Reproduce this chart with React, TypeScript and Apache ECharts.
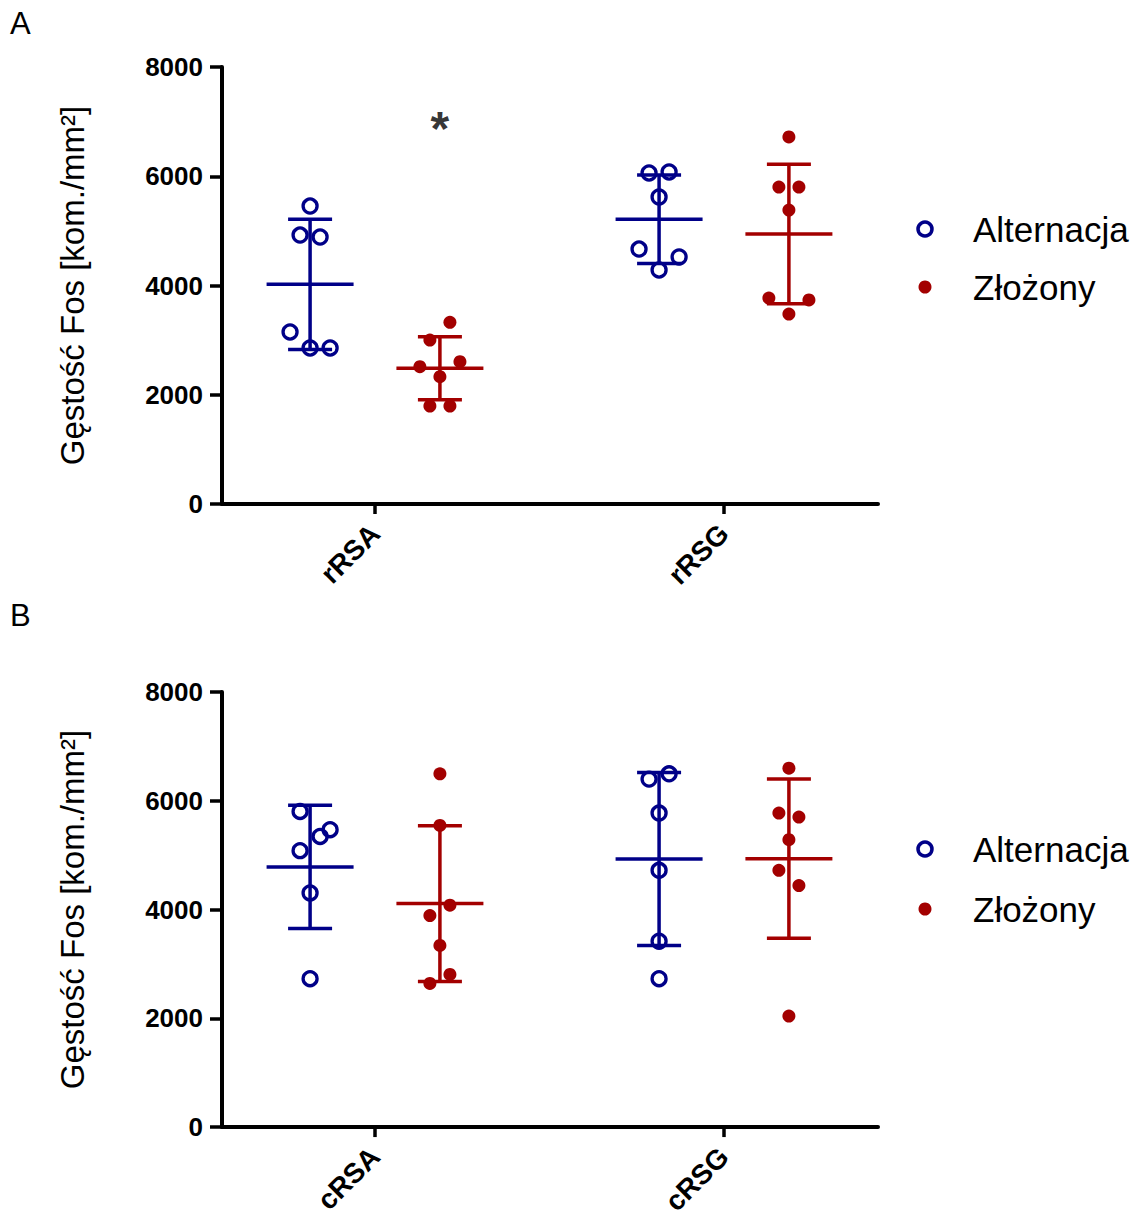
import React, { useEffect, useRef } from "react";
import * as echarts from "echarts";

// ---------- data ----------
const categoriesA = ["rRSA", "rRSG"];
const categoriesB = ["cRSA", "cRSG"];
const seriesNames = ["Alternacja", "Złożony"];
const yTicks = [0, 2000, 4000, 6000, 8000];

// individual points (Fos density), per category
const rRSA_alt = [5455, 4924, 4888, 3149, 2856, 2856];
const rRSA_zl = [3326, 3002, 2513, 2605, 2330, 1794, 1794];
const rRSG_alt = [6060, 6078, 5620, 4668, 4522, 4284];
const rRSG_zl = [6719, 5803, 5803, 5382, 3771, 3735, 3478];
const cRSA_alt = [5804, 5468, 5345, 5083, 4306, 2728];
const cRSA_zl = [6495, 5547, 4079, 3890, 3339, 2807, 2642];
const cRSG_alt = [6398, 6495, 5774, 4721, 3418, 2728];
const cRSG_zl = [6600, 5774, 5701, 5284, 4721, 4440, 2042];

// jitter slots for the scatter points (layout only)
const rRSA_alt_j = [0, -1, 1, -2, 0, 2];
const rRSA_zl_j = [1, -1, -2, 2, 0, -1, 1];
const rRSG_alt_j = [-1, 1, 0, -2, 2, 0];
const rRSG_zl_j = [0, -1, 1, 0, -2, 2, 0];
const cRSA_alt_j = [-1, 2, 1, -1, 0, 0];
const cRSA_zl_j = [0, 0, 1, -1, 0, 1, -1];
const cRSG_alt_j = [-1, 1, 0, 0, 0, 0];
const cRSG_zl_j = [0, -1, 1, 0, -1, 1, 0];

// mean and SD per category
const A_alt_mean = [4022, 5212];
const A_alt_sd = [1193, 811];
const A_zl_mean = [2484, 4943];
const A_zl_sd = [577, 1276];
const B_alt_mean = [4783, 4930];
const B_alt_sd = [1133, 1590];
const B_zl_mean = [4110, 4936];
const B_zl_sd = [1432, 1463];

// significance marker (panel A, rRSA, Złożony)
const sigLabel = "*";
const sigValue = 6880;

// ---------- style ----------
const BLUE = "#000088";
const RED = "#A30000";
const FONT = "'Liberation Sans', Arial, sans-serif";
const GROUP_OFF = 0.186;
const JIT = 0.0287;
const X_MIN = -0.4384;
const X_MAX = 1.4413;

function pts(vals: number[], jit: number[], cat: number, off: number) {
  return vals.map((v, i) => [cat + off + jit[i] * JIT, v]);
}

function App() {
  const ref = useRef<HTMLDivElement>(null);
  useEffect(() => {
    if (!ref.current) return;
    const chart = echarts.init(ref.current, null, { renderer: "svg" });

    const grids = [
      { left: 222, top: 67, width: 656, height: 437 },
      { left: 222, top: 692, width: 656, height: 436 },
    ];

    const mkX = (gi: number, cats: string[]) => ({
      type: "value",
      gridIndex: gi,
      min: X_MIN,
      max: X_MAX,
      splitLine: { show: false },
      axisLine: { show: true, onZero: false, lineStyle: { color: "#000", width: 4 } },
      axisTick: { show: true, customValues: [0, 1], length: 10, lineStyle: { color: "#000", width: 3.5 } },
      axisLabel: {
        customValues: [0, 1],
        formatter: (v: number) => cats[Math.round(v)] ?? "",
        rotate: 45,
        margin: 25,
        fontSize: 28,
        fontWeight: "bold",
        color: "#000",
        fontFamily: FONT,
      },
    });

    const mkY = (gi: number) => ({
      type: "value",
      gridIndex: gi,
      min: yTicks[0],
      max: yTicks[yTicks.length - 1],
      interval: yTicks[1] - yTicks[0],
      splitLine: { show: false },
      axisLine: { show: true, onZero: false, lineStyle: { color: "#000", width: 4 } },
      axisTick: { show: true, length: 12, lineStyle: { color: "#000", width: 3.5 } },
      axisLabel: {
        fontSize: 26,
        fontWeight: "bold",
        color: "#000",
        margin: 19,
        fontFamily: FONT,
        formatter: (v: number) => String(v),
      },
      name: "Gęstość Fos [kom./mm²]",
      nameLocation: "middle",
      nameGap: 133,
      nameTextStyle: { fontSize: 33, color: "#000", fontFamily: FONT },
    });

    const scatter = (gi: number, name: string, data: number[][], color: string, hollow: boolean) => ({
      type: "scatter",
      name,
      xAxisIndex: gi,
      yAxisIndex: gi,
      data,
      symbol: "circle",
      symbolSize: hollow ? 14 : 13,
      z: 3,
      itemStyle: hollow
        ? { color: "rgba(0,0,0,0)", borderColor: color, borderWidth: 3.3, opacity: 1 }
        : { color, opacity: 1 },
    });

    const errBars = (gi: number, means: number[], sds: number[], off: number, color: string) => ({
      type: "custom",
      xAxisIndex: gi,
      yAxisIndex: gi,
      z: 2,
      data: means.map((m, i) => [i + off, m, m - sds[i], m + sds[i]]),
      encode: { x: 0, y: [1, 2, 3] },
      renderItem: (_p: any, api: any) => {
        const x = api.value(0);
        const pm = api.coord([x, api.value(1)]);
        const pl = api.coord([x, api.value(2)]);
        const ph = api.coord([x, api.value(3)]);
        const st = { stroke: color, lineWidth: 3.5 };
        const hw = 43.5;
        const cw = 22;
        return {
          type: "group",
          children: [
            { type: "line", shape: { x1: pm[0], y1: pl[1], x2: pm[0], y2: ph[1] }, style: st },
            { type: "line", shape: { x1: pm[0] - hw, y1: pm[1], x2: pm[0] + hw, y2: pm[1] }, style: st },
            { type: "line", shape: { x1: pm[0] - cw, y1: ph[1], x2: pm[0] + cw, y2: ph[1] }, style: st },
            { type: "line", shape: { x1: pm[0] - cw, y1: pl[1], x2: pm[0] + cw, y2: pl[1] }, style: st },
          ],
        };
      },
    });

    const series: any[] = [
      errBars(0, A_alt_mean, A_alt_sd, -GROUP_OFF, BLUE),
      errBars(0, A_zl_mean, A_zl_sd, GROUP_OFF, RED),
      errBars(1, B_alt_mean, B_alt_sd, -GROUP_OFF, BLUE),
      errBars(1, B_zl_mean, B_zl_sd, GROUP_OFF, RED),
      scatter(0, seriesNames[0], [...pts(rRSA_alt, rRSA_alt_j, 0, -GROUP_OFF), ...pts(rRSG_alt, rRSG_alt_j, 1, -GROUP_OFF)], BLUE, true),
      scatter(0, seriesNames[1], [...pts(rRSA_zl, rRSA_zl_j, 0, GROUP_OFF), ...pts(rRSG_zl, rRSG_zl_j, 1, GROUP_OFF)], RED, false),
      scatter(1, seriesNames[0], [...pts(cRSA_alt, cRSA_alt_j, 0, -GROUP_OFF), ...pts(cRSG_alt, cRSG_alt_j, 1, -GROUP_OFF)], BLUE, true),
      scatter(1, seriesNames[1], [...pts(cRSA_zl, cRSA_zl_j, 0, GROUP_OFF), ...pts(cRSG_zl, cRSG_zl_j, 1, GROUP_OFF)], RED, false),
      {
        type: "scatter",
        xAxisIndex: 0,
        yAxisIndex: 0,
        symbolSize: 0,
        itemStyle: { color: "#000" },
        data: [[0 + GROUP_OFF, sigValue]],
        label: {
          show: true,
          position: "inside",
          formatter: sigLabel,
          fontSize: 48,
          fontWeight: "bold",
          color: "#000",
          textBorderWidth: 0,
          textBorderColor: "transparent",
          fontFamily: FONT,
        },
      },
    ];

    const legendItems = (yTop: number, yBot: number) => [
      { type: "circle", shape: { cx: 925, cy: yTop, r: 7 }, style: { fill: "none", stroke: BLUE, lineWidth: 3.5 } },
      { type: "circle", shape: { cx: 925, cy: yBot, r: 6.5 }, style: { fill: RED } },
      {
        type: "text", x: 973, y: yTop,
        style: { text: seriesNames[0], fontSize: 35, fill: "#000", fontFamily: FONT, verticalAlign: "middle", align: "left" },
      },
      {
        type: "text", x: 973, y: yBot,
        style: { text: seriesNames[1], fontSize: 35, fill: "#000", fontFamily: FONT, verticalAlign: "middle", align: "left" },
      },
    ];

    chart.setOption({
      animation: false,
      backgroundColor: "#fff",
      grid: grids,
      xAxis: [mkX(0, categoriesA), mkX(1, categoriesB)],
      yAxis: [mkY(0), mkY(1)],
      series,
      graphic: [
        { type: "text", x: 10, y: 8, style: { text: "A", fontSize: 31, fill: "#000", fontFamily: FONT } },
        { type: "text", x: 10, y: 600, style: { text: "B", fontSize: 31, fill: "#000", fontFamily: FONT } },
        ...legendItems(229, 287),
        ...legendItems(849, 909),
      ],
    });
    return () => chart.dispose();
  }, []);
  return (
    <div
      ref={ref}
      style={{ position: "absolute", left: 0, top: 0, width: 1136, height: 1218, background: "#fff" }}
    />
  );
}

export default App;
